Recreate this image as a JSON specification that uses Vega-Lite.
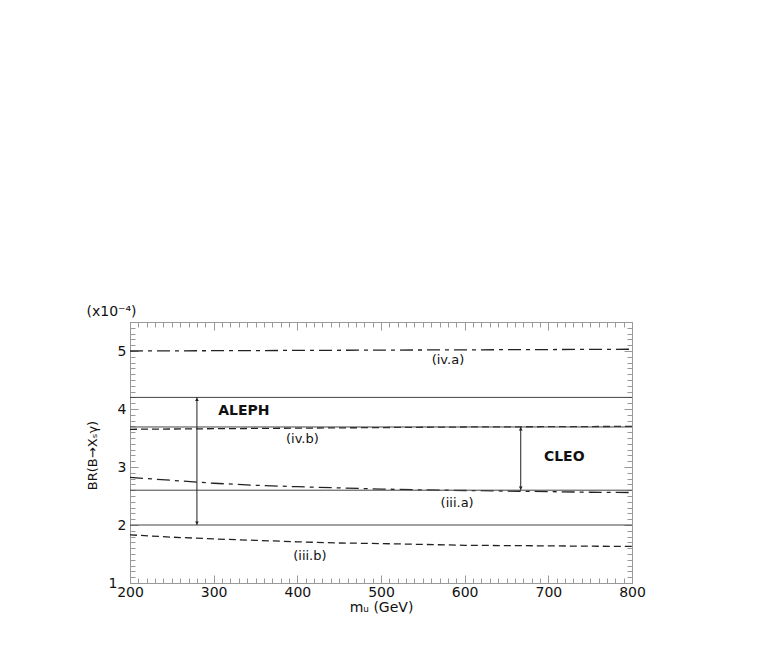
{
  "$schema": "https://vega.github.io/schema/vega-lite/v6.json",
  "width": 502,
  "height": 261,
  "autosize": "none",
  "padding": {"left": 130, "top": 322, "right": 131, "bottom": 71},
  "background": "white",
  "config": {
    "view": {"stroke": "#999", "strokeWidth": 1},
    "font": "DejaVu Sans",
    "axis": {
      "grid": false,
      "domain": false,
      "tickColor": "#999",
      "tickWidth": 1,
      "labelFont": "DejaVu Sans",
      "labelFontSize": 14,
      "labelColor": "#111",
      "titleFont": "DejaVu Sans",
      "titleFontWeight": "normal",
      "titleColor": "#111"
    }
  },
  "datasets": {
    "curves": [
      {"series": "iv.a", "style": "dashdot", "x": 200, "y": 5.0},
      {"series": "iv.a", "style": "dashdot", "x": 400, "y": 5.01},
      {"series": "iv.a", "style": "dashdot", "x": 600, "y": 5.02},
      {"series": "iv.a", "style": "dashdot", "x": 800, "y": 5.03},
      {"series": "iv.b", "style": "dashed", "x": 200, "y": 3.65},
      {"series": "iv.b", "style": "dashed", "x": 400, "y": 3.67},
      {"series": "iv.b", "style": "dashed", "x": 600, "y": 3.69},
      {"series": "iv.b", "style": "dashed", "x": 800, "y": 3.7},
      {"series": "iii.a", "style": "dashdot", "x": 200, "y": 2.82},
      {"series": "iii.a", "style": "dashdot", "x": 250, "y": 2.77},
      {"series": "iii.a", "style": "dashdot", "x": 300, "y": 2.72},
      {"series": "iii.a", "style": "dashdot", "x": 350, "y": 2.685},
      {"series": "iii.a", "style": "dashdot", "x": 400, "y": 2.66},
      {"series": "iii.a", "style": "dashdot", "x": 450, "y": 2.64},
      {"series": "iii.a", "style": "dashdot", "x": 500, "y": 2.62},
      {"series": "iii.a", "style": "dashdot", "x": 550, "y": 2.605},
      {"series": "iii.a", "style": "dashdot", "x": 600, "y": 2.595},
      {"series": "iii.a", "style": "dashdot", "x": 650, "y": 2.585},
      {"series": "iii.a", "style": "dashdot", "x": 700, "y": 2.575},
      {"series": "iii.a", "style": "dashdot", "x": 750, "y": 2.565},
      {"series": "iii.a", "style": "dashdot", "x": 800, "y": 2.56},
      {"series": "iii.b", "style": "dashed", "x": 200, "y": 1.83},
      {"series": "iii.b", "style": "dashed", "x": 250, "y": 1.79},
      {"series": "iii.b", "style": "dashed", "x": 300, "y": 1.76},
      {"series": "iii.b", "style": "dashed", "x": 350, "y": 1.735},
      {"series": "iii.b", "style": "dashed", "x": 400, "y": 1.71},
      {"series": "iii.b", "style": "dashed", "x": 450, "y": 1.69},
      {"series": "iii.b", "style": "dashed", "x": 500, "y": 1.68},
      {"series": "iii.b", "style": "dashed", "x": 550, "y": 1.665},
      {"series": "iii.b", "style": "dashed", "x": 600, "y": 1.65},
      {"series": "iii.b", "style": "dashed", "x": 650, "y": 1.645},
      {"series": "iii.b", "style": "dashed", "x": 700, "y": 1.64},
      {"series": "iii.b", "style": "dashed", "x": 750, "y": 1.635},
      {"series": "iii.b", "style": "dashed", "x": 800, "y": 1.63}
    ],
    "hlines": [
      {"bound": "ALEPH upper", "y": 4.2},
      {"bound": "CLEO upper", "y": 3.69},
      {"bound": "CLEO lower", "y": 2.6},
      {"bound": "ALEPH lower", "y": 2.0}
    ],
    "arrows": [
      {"experiment": "ALEPH", "x": 280, "low": 2.0, "high": 4.2},
      {"experiment": "CLEO", "x": 667, "low": 2.6, "high": 3.69}
    ],
    "labels": [
      {"text": "(iv.a)", "kind": "curve", "x": 580, "y": 4.85},
      {"text": "ALEPH", "kind": "experiment", "x": 336, "y": 3.97},
      {"text": "(iv.b)", "kind": "curve", "x": 406, "y": 3.48},
      {"text": "CLEO", "kind": "experiment", "x": 719, "y": 3.17},
      {"text": "(iii.a)", "kind": "curve", "x": 591, "y": 2.38},
      {"text": "(iii.b)", "kind": "curve", "x": 415, "y": 1.47}
    ]
  },
  "layer": [
    {
      "data": {"name": "curves"},
      "mark": {"type": "line", "color": "#222", "strokeWidth": 1.3},
      "encoding": {
        "x": {
          "field": "x", "type": "quantitative",
          "scale": {"domain": [200, 800], "nice": false, "zero": false},
          "axis": {
            "orient": "bottom",
            "values": [200, 300, 400, 500, 600, 700, 800],
            "tickSize": -8,
            "labelPadding": 10,
            "labelFlush": false,
            "title": "mᵤ  (GeV)",
            "titleFontSize": 14,
            "titlePadding": 1
          }
        },
        "y": {
          "field": "y", "type": "quantitative",
          "scale": {"domain": [1, 5.5], "nice": false, "zero": false},
          "axis": {
            "orient": "left",
            "values": [1, 2, 3, 4, 5],
            "tickSize": -8,
            "labelPadding": {"condition": {"test": "datum.value === 1", "value": 21}, "value": 12},
            "title": "BR(B→Xₛγ)",
            "titleFontSize": 13,
            "titleAngle": -90,
            "titleX": -38,
            "titleY": 133,
            "titleAlign": "center",
            "titleBaseline": "middle"
          }
        },
        "detail": {"field": "series"},
        "strokeDash": {
          "field": "style", "type": "nominal",
          "scale": {"domain": ["dashdot", "dashed"], "range": [[13, 5, 4, 5], [7, 4]]},
          "legend": null
        }
      }
    },
    {
      "data": {"name": "curves"},
      "mark": {"type": "point", "opacity": 0},
      "encoding": {
        "x": {
          "field": "x", "type": "quantitative",
          "axis": {
            "orient": "bottom",
            "values": [200,210,220,230,240,250,260,270,280,290,300,310,320,330,340,350,360,370,380,390,400,410,420,430,440,450,460,470,480,490,500,510,520,530,540,550,560,570,580,590,600,610,620,630,640,650,660,670,680,690,700,710,720,730,740,750,760,770,780,790,800],
            "tickSize": -5,
            "labels": false,
            "title": null
          }
        },
        "y": {
          "field": "y", "type": "quantitative",
          "axis": {
            "orient": "left",
            "values": [1,1.1,1.2,1.3,1.4,1.5,1.6,1.7,1.8,1.9,2,2.1,2.2,2.3,2.4,2.5,2.6,2.7,2.8,2.9,3,3.1,3.2,3.3,3.4,3.5,3.6,3.7,3.8,3.9,4,4.1,4.2,4.3,4.4,4.5,4.6,4.7,4.8,4.9,5,5.1,5.2,5.3,5.4,5.5],
            "tickSize": -5,
            "labels": false,
            "title": "(x10⁻⁴)",
            "titleFontSize": 14,
            "titleAngle": 0,
            "titleX": -19,
            "titleY": -11,
            "titleAlign": "center",
            "titleBaseline": "middle"
          }
        }
      }
    },
    {
      "data": {"name": "curves"},
      "mark": {"type": "point", "opacity": 0},
      "encoding": {
        "x": {
          "field": "x", "type": "quantitative",
          "axis": {
            "orient": "top",
            "values": [200, 300, 400, 500, 600, 700, 800],
            "tickSize": -8,
            "labels": false,
            "title": null
          }
        },
        "y": {
          "field": "y", "type": "quantitative",
          "axis": {
            "orient": "right",
            "values": [1, 2, 3, 4, 5],
            "tickSize": -8,
            "labels": false,
            "title": null
          }
        }
      }
    },
    {
      "data": {"name": "curves"},
      "mark": {"type": "point", "opacity": 0},
      "encoding": {
        "x": {
          "field": "x", "type": "quantitative",
          "axis": {
            "orient": "top",
            "values": [200,210,220,230,240,250,260,270,280,290,300,310,320,330,340,350,360,370,380,390,400,410,420,430,440,450,460,470,480,490,500,510,520,530,540,550,560,570,580,590,600,610,620,630,640,650,660,670,680,690,700,710,720,730,740,750,760,770,780,790,800],
            "tickSize": -5,
            "labels": false,
            "title": null
          }
        },
        "y": {
          "field": "y", "type": "quantitative",
          "axis": {
            "orient": "right",
            "values": [1,1.1,1.2,1.3,1.4,1.5,1.6,1.7,1.8,1.9,2,2.1,2.2,2.3,2.4,2.5,2.6,2.7,2.8,2.9,3,3.1,3.2,3.3,3.4,3.5,3.6,3.7,3.8,3.9,4,4.1,4.2,4.3,4.4,4.5,4.6,4.7,4.8,4.9,5,5.1,5.2,5.3,5.4,5.5],
            "tickSize": -5,
            "labels": false,
            "title": null
          }
        }
      }
    },
    {
      "data": {"name": "hlines"},
      "mark": {"type": "rule", "color": "#444", "strokeWidth": 1},
      "encoding": {
        "y": {"field": "y", "type": "quantitative", "axis": null}
      }
    },
    {
      "data": {"name": "arrows"},
      "mark": {"type": "rule", "color": "#222", "strokeWidth": 1},
      "encoding": {
        "x": {"field": "x", "type": "quantitative", "axis": null},
        "y": {"field": "low", "type": "quantitative", "axis": null},
        "y2": {"field": "high"}
      }
    },
    {
      "data": {"name": "arrows"},
      "mark": {"type": "point", "shape": "triangle-up", "filled": true, "color": "#222", "size": 14, "opacity": 1, "yOffset": 2},
      "encoding": {
        "x": {"field": "x", "type": "quantitative", "axis": null},
        "y": {"field": "high", "type": "quantitative", "axis": null}
      }
    },
    {
      "data": {"name": "arrows"},
      "mark": {"type": "point", "shape": "triangle-down", "filled": true, "color": "#222", "size": 14, "opacity": 1, "yOffset": -2},
      "encoding": {
        "x": {"field": "x", "type": "quantitative", "axis": null},
        "y": {"field": "low", "type": "quantitative", "axis": null}
      }
    },
    {
      "data": {"name": "labels"},
      "transform": [{"filter": "datum.kind === 'curve'"}],
      "mark": {"type": "text", "font": "DejaVu Sans", "fontSize": 13, "color": "#111", "align": "center", "baseline": "middle"},
      "encoding": {
        "x": {"field": "x", "type": "quantitative", "axis": null},
        "y": {"field": "y", "type": "quantitative", "axis": null},
        "text": {"field": "text"}
      }
    },
    {
      "data": {"name": "labels"},
      "transform": [{"filter": "datum.kind === 'experiment'"}],
      "mark": {"type": "text", "font": "DejaVu Sans", "fontSize": 14, "fontWeight": "bold", "color": "#111", "align": "center", "baseline": "middle"},
      "encoding": {
        "x": {"field": "x", "type": "quantitative", "axis": null},
        "y": {"field": "y", "type": "quantitative", "axis": null},
        "text": {"field": "text"}
      }
    }
  ],
  "resolve": {"axis": {"x": "independent", "y": "independent"}}
}
